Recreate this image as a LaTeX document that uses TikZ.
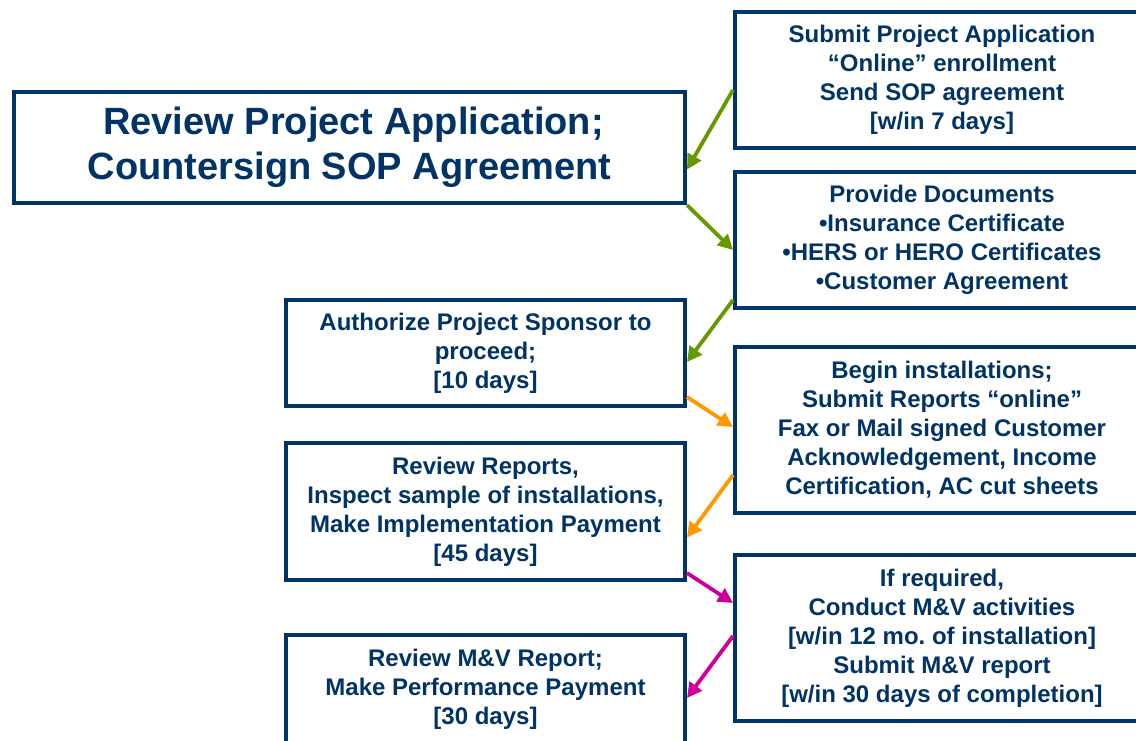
\documentclass[tikz,border=0pt]{standalone}
\usepackage{fontspec}
\setmainfont{Liberation Sans}
\usetikzlibrary{arrows.meta}
\definecolor{navy}{RGB}{0,51,102}
\definecolor{agreen}{RGB}{102,153,0}
\definecolor{aorange}{RGB}{255,153,0}
\definecolor{amag}{RGB}{204,0,153}
\frenchspacing
\tikzset{
  box/.style={draw=navy, line width=4pt, fill=white, rectangle, inner sep=0pt,
    align=center, text=navy, font=\bfseries\fontsize{24}{29}\selectfont},
  bigbox/.style={box, font=\bfseries\fontsize{38}{45}\selectfont},
  conn/.style={line width=3.8pt, -{Triangle[length=15pt,width=15pt]}},
}
\begin{document}
\begin{tikzpicture}[x=1pt,y=-1pt]
\useasboundingbox (0,0) rectangle (1136,741);
\clip (0,0) rectangle (1136,741);
\node[bigbox, minimum width=671pt, minimum height=111pt] (big) at (349.5,147.5)
  {\rule{0pt}{0pt}\hspace*{8pt}Review Project Application;\\Countersign SOP Agreement};
\node[box, minimum width=414pt, minimum height=136pt] (b1) at (942,80)
  {Submit Project Application\\“Online” enrollment\\Send SOP agreement\\{}[w/in 7 days]};
\node[box, minimum width=414pt, minimum height=136pt] (b2) at (942,240)
  {Provide Documents\\•Insurance Certificate\\•HERS or HERO Certificates\\•Customer Agreement};
\node[box, minimum width=399pt, minimum height=106pt] (auth) at (485.5,353)
  {Authorize Project Sponsor to\\proceed;\\{}[10 days]};
\node[box, minimum width=414pt, minimum height=166pt] (b3) at (942,430)
  {Begin installations;\\Submit Reports “online”\\Fax or Mail signed Customer\\Acknowledgement, Income\\Certification, AC cut sheets};
\node[box, minimum width=399pt, minimum height=137pt] (rev) at (485.5,511.5)
  {Review Reports,\\Inspect sample of installations,\\Make Implementation Payment\\{}[45 days]};
\node[box, minimum width=414pt, minimum height=166pt] (b4) at (942,638)
  {If required,\\Conduct M\&V activities\\{}[w/in 12 mo. of installation]\\Submit M\&V report\\{}[w/in 30 days of completion]};
\node[box, minimum width=399pt, minimum height=108pt] (mv) at (485.5,689)
  {Review M\&V Report;\\Make Performance Payment\\{}[30 days]};
\draw[conn, agreen] ([yshift=-10pt]b1.west) -- ([yshift=-22pt]big.east);
\draw[conn, agreen] (big.south east) -- ([yshift=-10pt]b2.west);
\draw[conn, agreen] ([yshift=10pt]b2.south west) -- ([yshift=-9pt]auth.east);
\draw[conn, aorange] ([yshift=11pt]auth.south east) -- ([yshift=3pt]b3.west);
\draw[conn, aorange] ([yshift=-45pt]b3.west) -- ([yshift=-26pt]rev.east);
\draw[conn, amag] ([yshift=9pt]rev.south east) -- ([yshift=35pt]b4.west);
\draw[conn, amag] ([yshift=2pt]b4.west) -- ([yshift=-9pt]mv.east);
\end{tikzpicture}
\end{document}
